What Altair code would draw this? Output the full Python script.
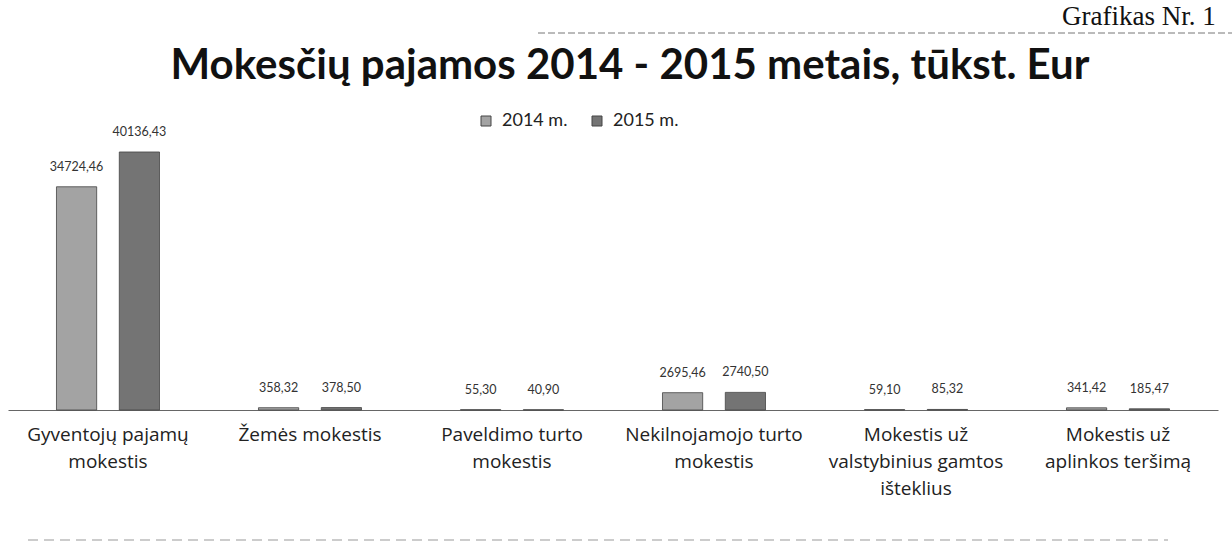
import altair as alt
import pandas as pd

categories = [
    "Gyventojų pajamų|mokestis",
    "Žemės mokestis",
    "Paveldimo turto|mokestis",
    "Nekilnojamojo turto|mokestis",
    "Mokestis už|valstybinius gamtos|išteklius",
    "Mokestis už|aplinkos teršimą",
]
years = ["2014 m.", "2015 m."]
values_2014 = [34724.46, 358.32, 55.30, 2695.46, 59.10, 341.42]
values_2015 = [40136.43, 378.50, 40.90, 2740.50, 85.32, 185.47]

title_text = "Mokesčių pajamos 2014 - 2015 metais, tūkst. Eur"
corner_text = "Grafikas Nr. 1"

rows = []
for i, c in enumerate(categories):
    for y, vals in zip(years, [values_2014, values_2015]):
        v = vals[i]
        rows.append({"cat": c, "year": y, "value": v,
                     "label": f"{v:.2f}".replace(".", ",")})
df = pd.DataFrame(rows)

FONT = "Lato"

x = alt.X("cat:N", sort=categories, title=None,
          scale=alt.Scale(paddingInner=0.49, paddingOuter=0.24),
          axis=alt.Axis(labelAngle=0, ticks=False, domain=True, domainColor="#666",
                        domainWidth=1, labelFontSize=19, labelFont="Open Sans",
                        labelColor="#222", labelPadding=15, labelLineHeight=27,
                        labelLimit=400, labelBaseline="top",
                        labelExpr="split(datum.label, '|')"))
xo = alt.XOffset("year:N", sort=years, scale=alt.Scale(paddingInner=0.36))
y = alt.Y("value:Q", axis=None, scale=alt.Scale(domain=[0, 42000], nice=False, zero=True))

base = alt.Chart(df)

bars = base.mark_bar(stroke="#444", strokeWidth=0.8).encode(
    x=x, xOffset=xo, y=y,
    color=alt.Color("year:N", sort=years, title=None,
                    scale=alt.Scale(domain=years, range=["#a3a3a3", "#747474"]),
                    legend=alt.Legend(orient="none", legendX=469, legendY=-28,
                                      direction="horizontal", symbolType="square",
                                      symbolSize=100, symbolStrokeColor="#444",
                                      symbolStrokeWidth=1,
                                      labelFont=FONT, labelFontSize=18,
                                      labelColor="#222", columnPadding=20,
                                      labelOffset=7)),
)

labels = base.mark_text(fontSize=12.5, font=FONT, color="#333", baseline="middle", dy=-20).encode(
    x=x, xOffset=xo, y=y, text="label:N"
)

title = alt.Chart(pd.DataFrame({"t": [title_text]})).mark_text(
    font=FONT, fontSize=42, fontWeight="bold", align="center", baseline="alphabetic",
    color="#111"
).encode(x=alt.value(622), y=alt.value(-61), text="t:N")

corner = alt.Chart(pd.DataFrame({"t": [corner_text]})).mark_text(
    font="Liberation Serif", fontSize=27, align="left", baseline="alphabetic", color="#111"
).encode(x=alt.value(1054), y=alt.value(-115), text="t:N")

topline = alt.Chart(pd.DataFrame({"a": [0]})).mark_rule(
    color="#777", strokeWidth=1, strokeDash=[7, 3]
).encode(x=alt.value(530), x2=alt.value(1226), y=alt.value(-107))

bottomline = alt.Chart(pd.DataFrame({"a": [0]})).mark_rule(
    color="#999", strokeWidth=1, strokeDash=[10, 6]
).encode(x=alt.value(20), x2=alt.value(1160), y=alt.value(400))

chart = alt.layer(bars, labels, title, corner, topline, bottomline).properties(
    width=1210, height=270,
    background="white",
    autosize=alt.AutoSizeParams(type="none"),
    padding={"left": 8, "top": 140, "right": 14, "bottom": 148},
).configure_view(stroke=None, strokeWidth=0)

chart.save("out.html", embed_options={"renderer": "svg", "actions": False})
